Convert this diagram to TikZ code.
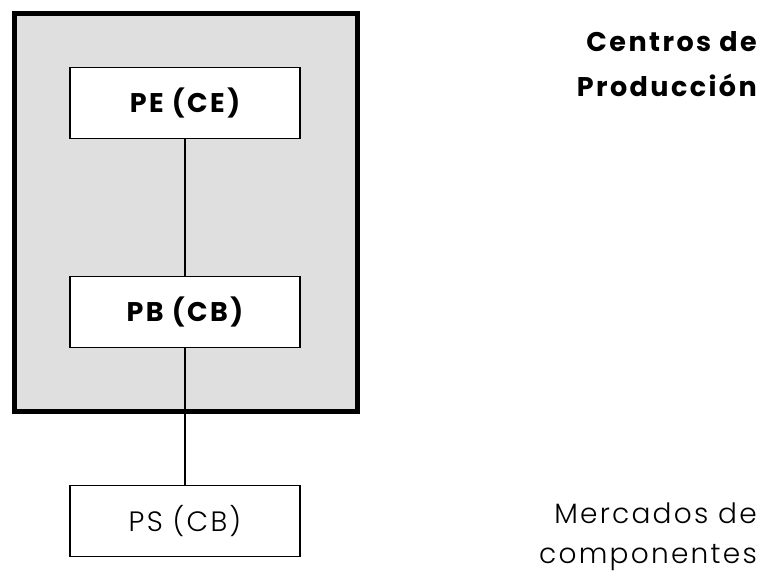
\documentclass[tikz,border=0pt]{standalone}
\usepackage{fontspec}
\setmainfont{Poppins}
\newfontfamily\boldwide{Poppins}[UprightFont=*-Bold,LetterSpace=9]
\newfontfamily\lightwide{Poppins}[UprightFont=*-Light,LetterSpace=8]
\begin{document}
\begin{tikzpicture}[x=1pt,y=-1pt,
  plainbox/.style={draw=black,line width=1.5pt,fill=white,minimum width=230pt,minimum height=71pt,inner sep=0pt},
  boldlabel/.style={font=\fontsize{27}{45}\selectfont\boldwide},
  lightlabel/.style={font=\fontsize{28}{40}\selectfont\lightwide},
  link/.style={draw=black,line width=1.5pt}]
  \useasboundingbox (0,0) rectangle (763,575);
  % production centre frame
  \draw[line width=5pt,fill=gray!25!white] (14,14) rectangle (357,411);
  \node[plainbox,boldlabel] (pe) at (185,103) {PE (CE)};
  \node[plainbox,boldlabel] (pb) at (185,312) {PB (CB)};
  \node[plainbox,lightlabel] (ps) at (185,521) {PS (CB)};
  \draw[link] (pe.south) -- (pb.north);
  \draw[link] (pb.south) -- (ps.north);
  % side captions (base anchor sits on the last line)
  \node[boldlabel,anchor=base east,align=right,inner sep=0pt] (cp) at (757,97) {Centros de\\Producción};
  \node[lightlabel,anchor=base east,align=right,inner sep=0pt] (mc) at (757,563) {Mercados de\\componentes};
\end{tikzpicture}
\end{document}
